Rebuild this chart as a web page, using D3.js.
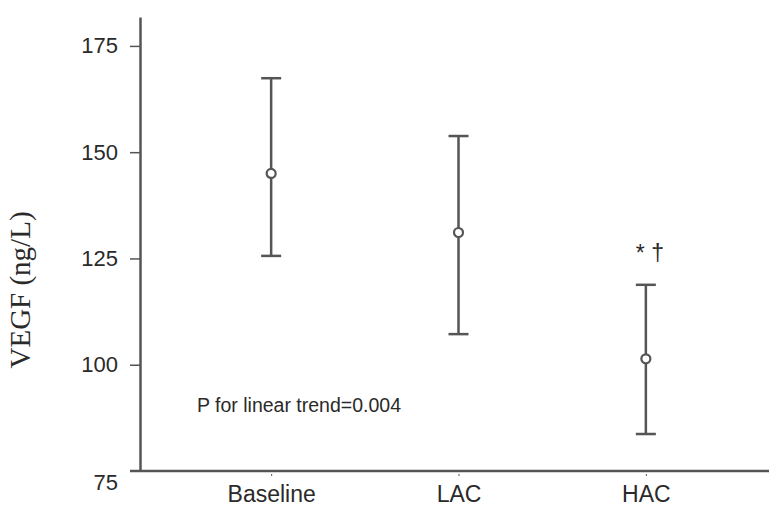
<!DOCTYPE html>
<html>
<head>
<meta charset="utf-8">
<script src="https://cdn.jsdelivr.net/npm/d3@7"></script>
<style>
    body { margin: 0; background: #fff; }
    svg { display: block; }
    .tick-label { font-family: "Liberation Sans", Arial, sans-serif; fill: #2a2a2a; }
</style>
</head>
<body>
<div id="chart"></div>
<script>
// Group means with error bar limits (VEGF, ng/L)
const categories = ["Baseline", "LAC", "HAC"];
const means = [145.0, 131.1, 101.4];
const upper = [167.4, 153.8, 118.8];
const lower = [125.6, 107.2, 83.7];
const yTicks = [75, 100, 125, 150, 175];
const marks = ["", "", "* \u2020"];
const note = "P for linear trend=0.004";

const W = 769, H = 514;
const axisX = 140, axisY = 471, axisTop = 17;
const lineColor = "#555";

const svg = d3.select("#chart")
    .append("svg")
    .attr("width", W)
    .attr("height", H);

svg.append("rect").attr("width", W).attr("height", H).attr("fill", "#fff");

const y = d3.scaleLinear()
    .domain([75, 181.8])
    .range([axisY, axisTop]);

const x = d3.scalePoint()
    .domain(categories)
    .range([axisX, 777])
    .padding(0.7);

// y axis
const yAxis = d3.axisLeft(y)
    .tickValues(yTicks)
    .tickSize(10)
    .tickPadding(12)
    .tickSizeOuter(0);

const gy = svg.append("g")
    .attr("transform", `translate(${axisX},0)`)
    .call(yAxis);

gy.select(".domain").attr("stroke", lineColor).attr("stroke-width", 2.5);
gy.selectAll(".tick line").attr("stroke", lineColor).attr("stroke-width", 1.5);
gy.selectAll(".tick text")
    .attr("class", "tick-label")
    .style("font-size", "22px");
// the 75 label sits below the x axis line in the original
gy.selectAll(".tick")
    .filter(d => d === 75)
    .select("text")
    .attr("dy", "0.85em");
gy.selectAll(".tick").filter(d => d === 75).select("line").remove();

// x axis
const xAxis = d3.axisBottom(x)
    .tickSize(5)
    .tickPadding(10)
    .tickSizeOuter(0);

const gx = svg.append("g")
    .attr("transform", `translate(0,${axisY})`)
    .call(xAxis);

gx.select(".domain")
    .attr("d", `M${axisX - 10},0H${W + 10}`)
    .attr("stroke", lineColor)
    .attr("stroke-width", 2.5);
gx.selectAll(".tick line")
    .attr("stroke", lineColor)
    .attr("stroke-width", 1)
    .attr("y1", 3);
gx.selectAll(".tick text")
    .attr("class", "tick-label")
    .style("font-size", "23px");

// y axis title
svg.append("text")
    .attr("transform", "translate(30,290) rotate(-90)")
    .attr("text-anchor", "middle")
    .style("font-family", "'Liberation Serif', 'Times New Roman', serif")
    .style("font-size", "29px")
    .attr("fill", "#2a2a2a")
    .text("VEGF (ng/L)");

// error bars
const capW = 10;
const bars = svg.append("g")
    .selectAll("g")
    .data(categories)
    .join("g")
    .attr("transform", d => `translate(${x(d)},0)`);

bars.append("line")
    .attr("y1", (d, i) => y(upper[i]))
    .attr("y2", (d, i) => y(lower[i]))
    .attr("stroke", lineColor)
    .attr("stroke-width", 2.5);

bars.append("line")
    .attr("x1", -capW).attr("x2", capW)
    .attr("y1", (d, i) => y(upper[i]))
    .attr("y2", (d, i) => y(upper[i]))
    .attr("stroke", lineColor)
    .attr("stroke-width", 2.5);

bars.append("line")
    .attr("x1", -capW).attr("x2", capW)
    .attr("y1", (d, i) => y(lower[i]))
    .attr("y2", (d, i) => y(lower[i]))
    .attr("stroke", lineColor)
    .attr("stroke-width", 2.5);

bars.append("circle")
    .attr("cy", (d, i) => y(means[i]))
    .attr("r", 4.5)
    .attr("fill", "#fff")
    .attr("stroke", lineColor)
    .attr("stroke-width", 2.2);

// significance marks
bars.append("text")
    .attr("x", 4)
    .attr("y", (d, i) => y(upper[i]) - 24)
    .attr("text-anchor", "middle")
    .style("font-family", "'Liberation Sans', Arial, sans-serif")
    .style("font-size", "23px")
    .attr("fill", "#2a2a2a")
    .text((d, i) => marks[i]);

// trend note
svg.append("text")
    .attr("x", 197)
    .attr("y", 412)
    .style("font-family", "'Liberation Sans', Arial, sans-serif")
    .style("font-size", "19.5px")
    .attr("fill", "#2a2a2a")
    .text(note);
</script>
</body>
</html>
